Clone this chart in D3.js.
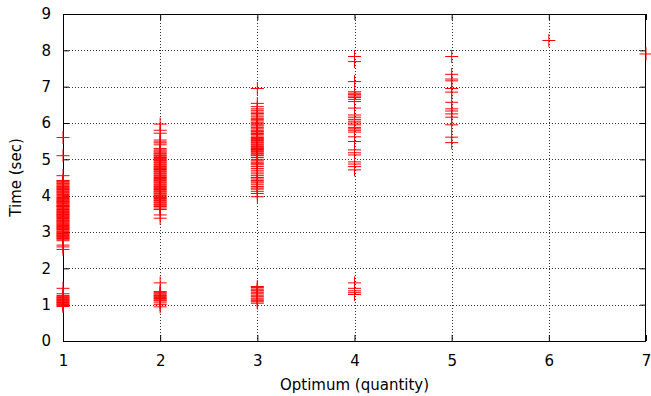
<!DOCTYPE html>
<html>
<head>
<meta charset="utf-8">
<script src="https://cdn.jsdelivr.net/npm/d3@7"></script>
<style>
  body { margin: 0; background: #fff; }
  text { font-family: "DejaVu Sans", sans-serif; font-size: 15px; fill: #000; }
</style>
</head>
<body>
<script>
// measured times, grouped by optimum quantity
var optimumValues = [1, 2, 3, 4, 5, 6, 7];
var times1 = [5.6, 5.1, 4.55, 4.42, 4.4, 4.38, 4.35, 4.33, 4.3, 4.27, 4.25, 4.22, 4.2, 4.17, 4.15, 4.12,
  4.1, 4.08, 4.05, 4.03, 4.0, 3.97, 3.95, 3.92, 3.9, 3.88, 3.86, 3.84, 3.82, 3.8, 3.78, 3.75, 3.73, 3.71,
  3.7, 3.68, 3.65, 3.62, 3.6, 3.58, 3.56, 3.54, 3.52, 3.5, 3.48, 3.46, 3.44, 3.42, 3.4, 3.37, 3.35, 3.32,
  3.3, 3.28, 3.27, 3.24, 3.22, 3.2, 3.18, 3.15, 3.13, 3.11, 3.1, 3.07, 3.05, 3.02, 3.0, 2.98, 2.96, 2.94,
  2.92, 2.9, 2.88, 2.86, 2.84, 2.82, 2.8, 2.76, 2.64, 2.59, 2.52,
  1.45, 1.3, 1.25, 1.22, 1.2, 1.18, 1.16, 1.14, 1.12, 1.1, 1.08, 1.06, 1.04, 1.02, 1.0, 0.98, 0.95];
var times2 = [5.97, 5.8, 5.72, 5.53, 5.48, 5.45, 5.4, 5.3, 5.26, 5.23, 5.2, 5.17, 5.15, 5.12, 5.1, 5.07,
  5.05, 5.02, 5.0, 4.97, 4.95, 4.92, 4.9, 4.87, 4.85, 4.82, 4.8, 4.77, 4.75, 4.72, 4.7, 4.67, 4.65, 4.62,
  4.6, 4.57, 4.55, 4.52, 4.5, 4.47, 4.45, 4.42, 4.4, 4.37, 4.35, 4.32, 4.3, 4.27, 4.25, 4.22, 4.2, 4.17,
  4.15, 4.12, 4.1, 4.07, 4.05, 4.02, 4.0, 3.97, 3.95, 3.92, 3.9, 3.87, 3.85, 3.82, 3.8, 3.77, 3.75, 3.72,
  3.7, 3.66, 3.62, 3.47, 3.38,
  1.6, 1.36, 1.33, 1.3, 1.27, 1.25, 1.22, 1.2, 1.17, 1.15, 1.12, 1.1, 1.05, 1.0, 0.94];
var times3 = [6.95, 6.54, 6.45, 6.39, 6.35, 6.3, 6.26, 6.22, 6.17, 6.13, 6.1, 6.06, 6.02, 5.98, 5.95, 5.92,
  5.88, 5.84, 5.8, 5.77, 5.75, 5.71, 5.68, 5.64, 5.6, 5.57, 5.55, 5.52, 5.5, 5.47, 5.45, 5.42, 5.4, 5.37,
  5.35, 5.32, 5.3, 5.27, 5.25, 5.22, 5.2, 5.17, 5.15, 5.12, 5.1, 5.05, 5.0, 4.96, 4.92, 4.88, 4.85, 4.8,
  4.75, 4.7, 4.65, 4.6, 4.55, 4.5, 4.46, 4.42, 4.38, 4.35, 4.3, 4.25, 4.21, 4.18, 4.12, 4.06, 3.97,
  1.5, 1.47, 1.43, 1.4, 1.38, 1.34, 1.3, 1.26, 1.22, 1.18, 1.15, 1.11, 1.08, 1.04];
var times4 = [7.83, 7.69, 7.14, 6.86, 6.82, 6.78, 6.74, 6.7, 6.65, 6.59, 6.41, 6.22, 6.16, 6.1, 6.05, 6.0,
  5.95, 5.88, 5.84, 5.8, 5.75, 5.62, 5.49, 5.26, 5.18, 5.12, 4.93, 4.87, 4.8, 4.71,
  1.6, 1.45, 1.38, 1.33, 1.28];
var times5 = [7.83, 7.34, 7.21, 7.16, 6.95, 6.85, 6.57, 6.39, 6.33, 6.25, 6.16, 5.95, 5.61, 5.46];
var times6 = [8.27];
var times7 = [7.9];
var timeGroups = [times1, times2, times3, times4, times5, times6, times7];
var xTicks = [1, 2, 3, 4, 5, 6, 7];
var yTicks = [0, 1, 2, 3, 4, 5, 6, 7, 8, 9];

var width = 651, height = 396;
var margin = {top: 14, right: 5, bottom: 55, left: 63};
var plotW = width - margin.left - margin.right;
var plotH = height - margin.top - margin.bottom;

var points = [];
timeGroups.forEach(function (group, i) {
  group.forEach(function (t) {
    points.push({x: optimumValues[i], y: t});
  });
});

var svg = d3.select('body').append('svg')
  .attr('width', width)
  .attr('height', height);

var g = svg.append('g')
  .attr('transform', 'translate(' + margin.left + ',' + margin.top + ')');

var x = d3.scaleLinear().domain([1, 7]).range([0, plotW]);
var y = d3.scaleLinear().domain([0, 9]).range([plotH, 0]);

// grid
g.append('g').selectAll('line')
  .data(yTicks.slice(1, -1))
  .enter().append('line')
  .attr('x1', 0).attr('x2', plotW)
  .attr('y1', function (d) { return Math.round(y(d)) + 0.5; })
  .attr('y2', function (d) { return Math.round(y(d)) + 0.5; })
  .attr('stroke', '#333').attr('stroke-dasharray', '1,2');

g.append('g').selectAll('line')
  .data(xTicks.slice(1, -1))
  .enter().append('line')
  .attr('y1', 0).attr('y2', plotH)
  .attr('x1', function (d) { return Math.round(x(d)) + 0.5; })
  .attr('x2', function (d) { return Math.round(x(d)) + 0.5; })
  .attr('stroke', '#333').attr('stroke-dasharray', '1,2');

// axes with inward ticks
var fmt = d3.format('d');
var xAxis = g.append('g')
  .attr('transform', 'translate(0,' + plotH + ')')
  .call(d3.axisBottom(x).tickValues(xTicks).tickFormat(fmt).tickSizeInner(-6).tickSizeOuter(0).tickPadding(14));
var xAxisTop = g.append('g')
  .call(d3.axisTop(x).tickValues(xTicks).tickSizeInner(-6).tickSizeOuter(0).tickFormat(''));
var yAxis = g.append('g')
  .call(d3.axisLeft(y).tickValues(yTicks).tickFormat(fmt).tickSizeInner(-6).tickSizeOuter(0).tickPadding(12));
var yAxisRight = g.append('g')
  .attr('transform', 'translate(' + plotW + ',0)')
  .call(d3.axisRight(y).tickValues(yTicks).tickSizeInner(-6).tickSizeOuter(0).tickFormat(''));

[xAxis, xAxisTop, yAxis, yAxisRight].forEach(function (a) {
  a.select('.domain').remove();
  a.selectAll('text').attr('font-family', '"DejaVu Sans", sans-serif').attr('font-size', 15);
});

// border
g.append('rect')
  .attr('x', 0.5).attr('y', 0.5)
  .attr('width', plotW - 1).attr('height', plotH)
  .attr('fill', 'none').attr('stroke', '#000');

// points as '+'
var size = 6.5;
g.append('g').selectAll('path')
  .data(points)
  .enter().append('path')
  .attr('d', function (d) {
    var cx = x(d.x), cy = y(d.y);
    return 'M' + (cx - size) + ',' + cy + 'H' + (cx + size) +
      'M' + cx + ',' + (cy - size) + 'V' + (cy + size);
  })
  .attr('stroke', '#ff0000')
  .attr('stroke-width', 1)
  .attr('fill', 'none');

svg.append('text')
  .attr('x', margin.left + plotW / 2)
  .attr('y', 390)
  .attr('text-anchor', 'middle')
  .text('Optimum (quantity)');

svg.append('text')
  .attr('transform', 'translate(21,' + (margin.top + plotH / 2) + ') rotate(-90)')
  .attr('text-anchor', 'middle')
  .text('Time (sec)');
</script>
</body>
</html>
